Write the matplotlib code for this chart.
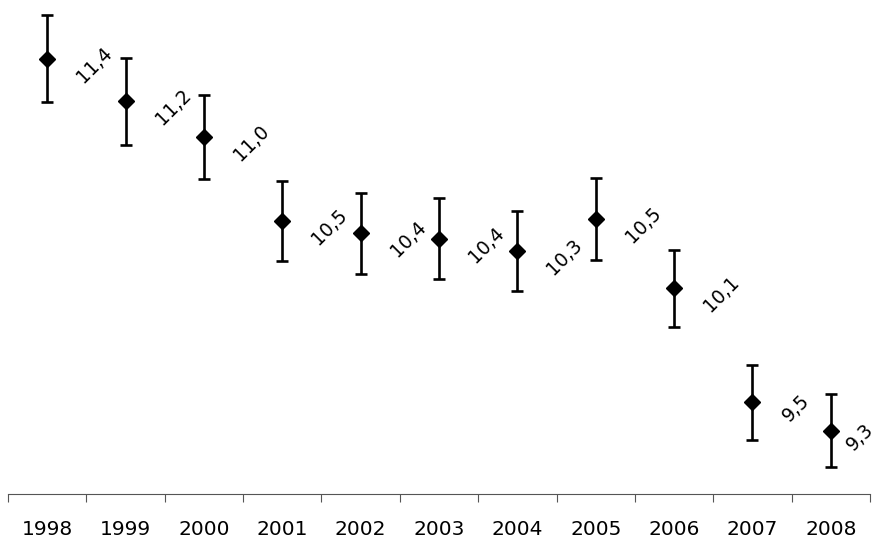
import matplotlib.pyplot as plt

years = ['1998', '1999', '2000', '2001', '2002', '2003', '2004', '2005', '2006', '2007', '2008']
values = [11.40, 11.16, 10.96, 10.49, 10.42, 10.39, 10.32, 10.50, 10.11, 9.47, 9.31]
errors = [0.245, 0.242, 0.236, 0.225, 0.228, 0.228, 0.225, 0.228, 0.216, 0.211, 0.205]
labels = ['11,4', '11,2', '11,0', '10,5', '10,4', '10,4', '10,3', '10,5', '10,1', '9,5', '9,3']

plt.rcParams['font.family'] = ['DejaVu Sans']

fig = plt.figure(figsize=(8.77, 5.41), dpi=100)
ax = fig.add_axes([8 / 877, 47 / 541, 862 / 877, 494 / 541])

x = list(range(len(years)))
ax.errorbar(x, values, yerr=errors, fmt='D', color='black', ms=8.3,
            elinewidth=1.9, capsize=4.4, capthick=1.9)

# data labels to the right of each point, last one squeezed to fit
x_off = [26, 26, 26, 26, 26, 26, 26, 26, 26, 26, 12]
for xi, v, lab, dx in zip(x, values, labels, x_off):
    ax.annotate(lab, (xi, v), xytext=(dx, -6), textcoords='offset pixels',
                rotation=45, ha='left', va='center', fontsize=13.5)

ax.set_xlim(-0.5, len(years) - 0.5)
ax.set_ylim(8.955, 11.73)

ax.set_xticks(x)
ax.set_xticklabels(years, fontsize=14.5)
ax.set_xticks([i - 0.5 for i in range(len(years) + 1)], minor=True)
ax.tick_params(axis='x', which='major', length=0, pad=19)
ax.tick_params(axis='x', which='minor', length=5.5, width=0.8, color='#555555')
ax.set_yticks([])

for side in ['left', 'right', 'top']:
    ax.spines[side].set_visible(False)
ax.spines['bottom'].set_color('#555555')
ax.spines['bottom'].set_linewidth(0.8)

fig.savefig('out.png', dpi=100)
